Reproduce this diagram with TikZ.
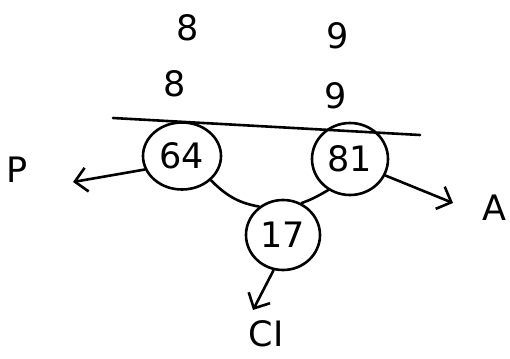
\documentclass[tikz,border=0pt]{standalone}
\usepackage{fontspec}
\setmainfont{DejaVu Sans}
\usetikzlibrary{shapes.geometric,arrows.meta}
\begin{document}
\begin{tikzpicture}[x=1pt,y=-1pt,
  ink/.style={line width=2.6pt,black,line cap=round},
  keynode/.style={ellipse,draw,ink,inner sep=0pt,font=\fontsize{35}{37}\selectfont},
  lbl/.style={inner sep=0pt,font=\fontsize{35}{37}\selectfont},
  arr/.style={ink,-{Straight Barb[length=12pt,width=24pt,line width=2.6pt]}}]
\useasboundingbox (0,0) rectangle (510,358);
\fill[white] (0,0) rectangle (510,358);
% top counts
\node[lbl] (t8) at (188,28) {8};
\node[lbl] (t9) at (338,36) {9};
\node[lbl] (s8) at (175,84) {8};
\node[lbl] (s9) at (336,96) {9};
% horizontal line
\coordinate (la) at (113,118);
\coordinate (lb) at (420,135);
\draw[ink] (la) -- (lb);
% nodes
\node[keynode,minimum width=78pt,minimum height=67pt] (n64) at (182,156) {64};
\node[keynode,minimum width=76pt,minimum height=72pt] (n81) at (350,159) {81};
\node[keynode,minimum width=74pt,minimum height=70pt] (n17) at (283,235) {17};
% labels
\node[lbl] (P) at (17,170) {P};
\node[lbl] (A) at (494,208) {A};
\node[lbl] (CI) at (266,334) {CI};
% edges
\draw[ink] (n64.-40) to[out=-45,in=170] (n17.130);
\draw[ink] (n81.-125) to[out=-150,in=20] (n17.60);
% arrows
\coordinate (pe) at (73,182);
\coordinate (ae) at (453,203);
\coordinate (ce) at (253,310);
\draw[arr] (n64.-160) -- (pe);
\draw[arr] (n81.-25) -- (ae);
\draw[arr] (n17.-105) -- (ce);
\end{tikzpicture}
\end{document}
